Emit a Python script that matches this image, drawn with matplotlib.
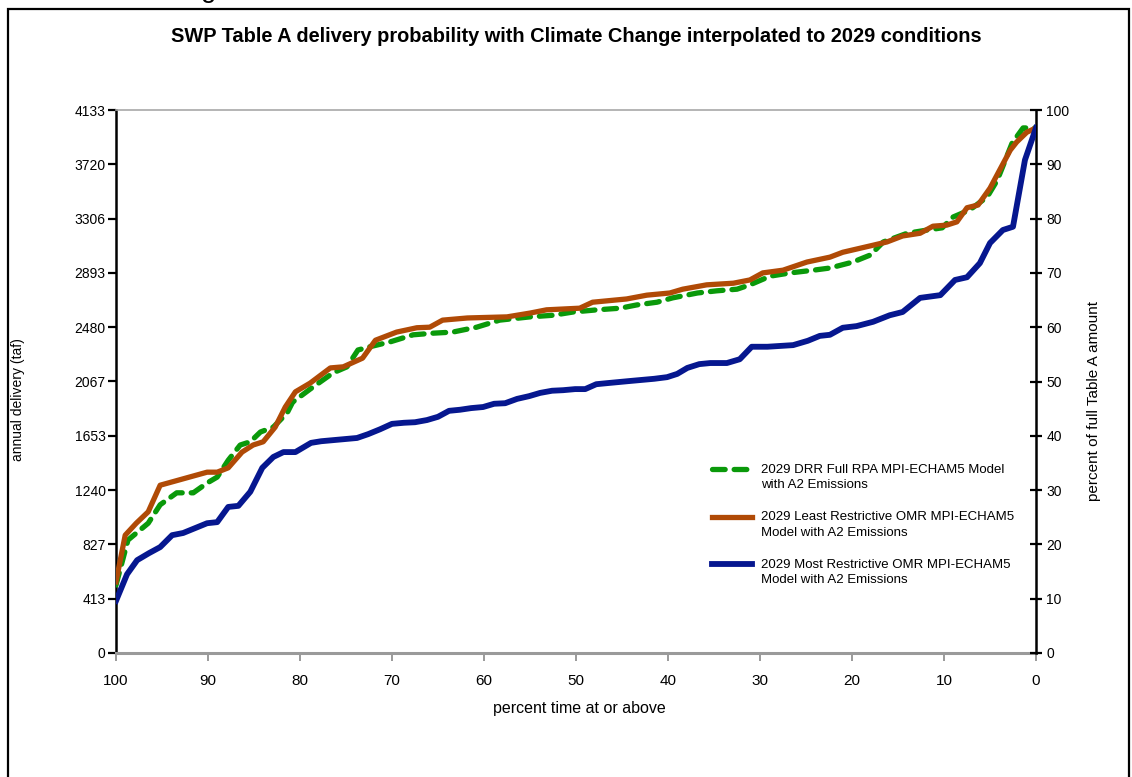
import matplotlib
matplotlib.use("Agg")
import matplotlib.pyplot as plt
import numpy as np
from matplotlib.patches import Rectangle
from matplotlib.legend_handler import HandlerLine2D

plt.rcParams['font.family'] = ['Liberation Sans', 'DejaVu Sans']

# percent time at or above (x) and percent of full Table A amount (y)
drr_x = [100, 98.7, 96.5, 95.2, 93.4, 91.6, 90.1, 89.0, 87.8, 86.5, 85.4, 84.3,
         82.9, 81.4, 80.8, 78.9, 76.4, 74.9, 73.7, 72.4, 70.2, 67.7, 65.5, 63.4,
         60.8, 58.3, 55.0, 52.5, 50.3, 47.7, 45.2, 43.4, 41.2, 39.5, 36.8, 34.7,
         32.5, 31.1, 28.9, 26.7, 24.2, 22.4, 19.9, 18.0, 16.6, 14.0, 11.8, 10.2,
         9.0, 7.2, 5.3, 4.2, 2.6, 1.4, 0]
drr_y = [12.5, 20.8, 23.9, 27.3, 29.5, 29.5, 31.3, 32.4, 35.5, 38.3, 38.9, 40.7,
         41.6, 44.2, 46.2, 48.6, 51.6, 52.7, 55.8, 56.4, 57.3, 58.6, 58.9, 59.1,
         60.0, 61.3, 61.9, 62.2, 62.8, 63.2, 63.5, 64.1, 64.6, 65.4, 66.3, 66.7,
         67.0, 67.8, 69.4, 70.0, 70.5, 70.9, 72.0, 73.3, 75.7, 77.3, 77.9, 78.3,
         80.3, 81.6, 84.0, 87.1, 93.9, 96.7, 96.7]

least_x = [100, 99.0, 97.8, 96.5, 95.2, 90.1, 89.0, 87.8, 86.3, 85.1, 84.0, 82.7,
           81.6, 80.5, 78.9, 76.7, 75.3, 73.2, 71.8, 69.5, 67.3, 65.9, 64.5, 61.8,
           57.5, 55.0, 53.2, 49.6, 48.2, 44.5, 42.3, 39.8, 38.4, 35.8, 32.9, 31.1,
           29.7, 27.5, 24.9, 22.4, 21.0, 17.7, 16.2, 14.5, 12.6, 11.2, 9.7, 8.6,
           7.5, 6.3, 5.0, 2.8, 2.1, 1.0, 0]
least_y = [13.1, 21.7, 23.9, 26.0, 30.9, 33.3, 33.3, 34.1, 37.0, 38.3, 38.9, 41.6,
           45.3, 48.1, 49.7, 52.5, 52.7, 54.3, 57.6, 59.1, 59.9, 60.0, 61.3, 61.7,
           61.9, 62.6, 63.2, 63.5, 64.6, 65.2, 65.9, 66.3, 67.0, 67.8, 68.1, 68.7,
           70.0, 70.5, 72.0, 72.9, 73.8, 75.1, 75.7, 76.8, 77.3, 78.6, 78.8, 79.4,
           82.0, 82.5, 85.6, 92.6, 94.1, 95.9, 96.7]

most_x = [100, 98.8, 97.7, 96.4, 95.2, 93.9, 92.7, 91.4, 90.1, 89.0, 87.8, 86.7,
          85.4, 84.1, 82.9, 81.8, 80.5, 78.8, 77.7, 76.4, 75.1, 73.8, 72.6, 71.3,
          70.0, 68.7, 67.5, 66.2, 65.0, 63.8, 62.6, 61.4, 60.1, 58.9, 57.7, 56.4,
          55.1, 53.9, 52.6, 51.4, 50.1, 49.0, 47.8, 46.6, 44.1, 41.5, 40.1, 39.0,
          37.9, 36.6, 35.4, 33.6, 32.2, 30.9, 29.2, 26.4, 24.8, 23.5, 22.4, 21.0,
          19.5, 17.7, 15.9, 14.5, 12.6, 10.4, 8.8, 7.5, 6.1, 5.0, 3.6, 2.5, 1.2, 0]
most_y = [9.6, 14.5, 17.1, 18.4, 19.5, 21.7, 22.1, 23.0, 23.9, 24.1, 26.9, 27.1,
          29.7, 34.1, 36.1, 37.0, 37.0, 38.7, 39.0, 39.2, 39.4, 39.6, 40.3, 41.2,
          42.2, 42.4, 42.5, 42.9, 43.5, 44.6, 44.8, 45.1, 45.3, 45.9, 46.0, 46.8,
          47.3, 47.9, 48.3, 48.4, 48.6, 48.6, 49.5, 49.7, 50.1, 50.5, 50.8, 51.4,
          52.5, 53.2, 53.4, 53.4, 54.1, 56.4, 56.4, 56.7, 57.5, 58.4, 58.6, 59.9,
          60.2, 61.0, 62.2, 62.8, 65.4, 65.9, 68.7, 69.2, 71.8, 75.5, 77.9, 78.5,
          90.8, 96.7]

taf_ticks = [0, 413, 827, 1240, 1653, 2067, 2480, 2893, 3306, 3720, 4133]
pct_ticks = [0, 10, 20, 30, 40, 50, 60, 70, 80, 90, 100]
x_ticks = [100, 90, 80, 70, 60, 50, 40, 30, 20, 10, 0]

labels = ["2029 DRR Full RPA MPI-ECHAM5 Model\nwith A2 Emissions",
          "2029 Least Restrictive OMR MPI-ECHAM5\nModel with A2 Emissions",
          "2029 Most Restrictive OMR MPI-ECHAM5\nModel with A2 Emissions"]

GREEN = "#0A990A"
ORANGE = "#B04A06"
BLUE = "#06178F"
GRAY = "#9A9A9A"


class FirstLineHandler(HandlerLine2D):
    # put the legend line next to the first text line, as Excel does
    def create_artists(self, legend, orig_handle, xdescent, ydescent,
                       width, height, fontsize, trans):
        arts = super().create_artists(legend, orig_handle, xdescent, ydescent,
                                      width, height, fontsize, trans)
        for a in arts:
            a.set_ydata(np.asarray(a.get_ydata()) + 0.62 * fontsize)
        return arts


fig = plt.figure(figsize=(11.32, 7.77), dpi=100)
W, H = 1132, 777
ax = fig.add_axes([116 / W, (H - 653) / H, 920 / W, 543 / H])
ax2 = ax.twinx()

ax.set_xlim(100, 0)
ax.set_ylim(0, 4133)
ax2.set_ylim(0, 100)

ax2.plot(drr_x, drr_y, color=GREEN, lw=3.8, ls=(0, (2.4, 1.7)),
         dash_capstyle='round', label=labels[0], zorder=2)
ax2.plot(least_x, least_y, color=ORANGE, lw=3.8, label=labels[1], zorder=3)
ax2.plot(most_x, most_y, color=BLUE, lw=4.2, label=labels[2], zorder=4)

ax.set_xticks(x_ticks)
ax.set_xticklabels([str(v) for v in x_ticks])
ax.set_yticks(taf_ticks)
ax.set_yticklabels([str(v) for v in taf_ticks])
ax2.set_yticks(pct_ticks)
ax2.set_yticklabels([str(v) for v in pct_ticks])

ax.tick_params(axis='y', direction='out', length=6, width=1.6, color='black',
               labelsize=10, pad=1.5)
ax.tick_params(axis='x', direction='out', length=6, width=1.4, color=GRAY,
               labelsize=11, pad=9)
ax2.tick_params(axis='y', direction='inout', length=9, width=1.6, color='black',
                labelsize=10, pad=3)

for a in (ax, ax2):
    for s in a.spines.values():
        s.set_visible(False)
ax.spines['left'].set_visible(True)
ax.spines['left'].set_color('black')
ax.spines['left'].set_linewidth(1.8)
ax.spines['bottom'].set_visible(True)
ax.spines['bottom'].set_color(GRAY)
ax.spines['bottom'].set_linewidth(2.2)
ax.spines['top'].set_visible(True)
ax.spines['top'].set_color("#A8A8A8")
ax.spines['top'].set_linewidth(1.2)
ax2.spines['right'].set_visible(True)
ax2.spines['right'].set_color('black')
ax2.spines['right'].set_linewidth(1.8)

fig.text(576 / W, 1 - 37 / H,
         "SWP Table A delivery probability with Climate Change interpolated to 2029 conditions",
         ha='center', va='center', fontsize=14.4, fontweight='bold')
fig.text(18 / W, 1 - 400 / H, "annual delivery (taf)", rotation=90,
         ha='center', va='center', fontsize=10)
fig.text(1094 / W, 1 - 401 / H, "percent of full Table A amount", rotation=90,
         ha='center', va='center', fontsize=11)
fig.text(579 / W, 1 - 709 / H, "percent time at or above",
         ha='center', va='center', fontsize=11.5)

# descender of a cut-off heading above the frame
fig.text(209 / W, 1 + 3 / H, "g", ha='center', va='baseline', fontsize=20)

fig.patches.append(Rectangle((8 / W, -0.05), (1129 - 8) / W, (H - 9) / H + 0.05,
                             transform=fig.transFigure, fill=False,
                             ec='black', lw=1.6))

leg = ax2.legend(loc='upper left',
                 bbox_to_anchor=((712 - 116) / 920, 1 - (464 - 110) / 543),
                 frameon=False, fontsize=9.5, handlelength=3.0,
                 handletextpad=0.7, labelspacing=1.52, borderaxespad=0,
                 borderpad=0, handler_map={plt.Line2D: FirstLineHandler()})
for t in leg.get_texts():
    t.set_linespacing(1.37)

fig.savefig("out.png", dpi=100)
